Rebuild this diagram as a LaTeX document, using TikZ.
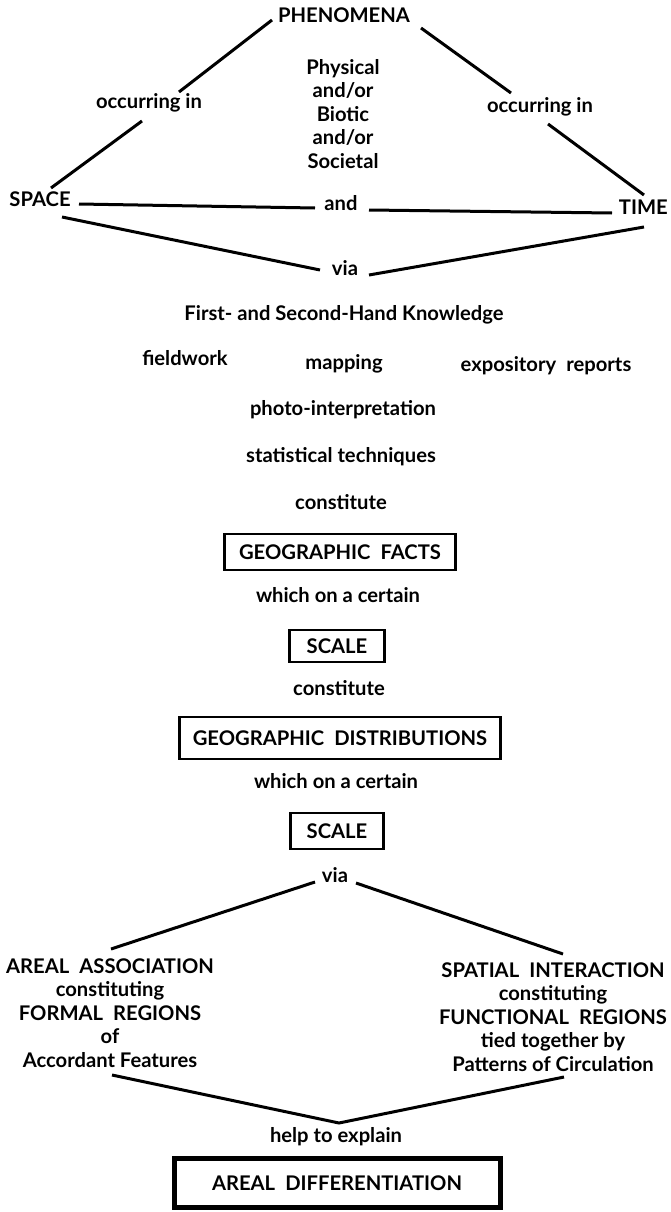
\documentclass[tikz,border=0pt]{standalone}
\usepackage{fontspec}
\setmainfont{Lato}
\newcommand{\wsp}{\hspace{0.5em}}
\begin{document}
\begin{tikzpicture}[x=1pt,y=-1pt,
  txtfont/.style={font=\fontsize{20.2}{23.5}\selectfont\bfseries},
  lbl/.style={inner sep=0pt, anchor=mid, txtfont},
  stack/.style={inner sep=0pt, align=center, txtfont},
  framed/.style={draw, line width=2.8pt, inner sep=0pt, align=center, txtfont},
  heavyframed/.style={framed, line width=5pt},
  link/.style={line width=3pt}
]
\fill[white] (0,0) rectangle (670,1212);
\useasboundingbox (0,0) rectangle (670,1212);

% --- phenomena in space and time ---
\node[lbl] (phen) at (344,20) {PHENOMENA};
\node[stack] (kinds) at (343,114) {Physical\\and/or\\Biotic\\and/or\\Societal};
\node[lbl] (occL) at (149,106) {occurring in};
\node[lbl] (occR) at (540,110) {occurring in};
\node[lbl] (space) at (40,204) {SPACE};
\node[lbl] (and) at (341,208) {and};
\node[lbl, anchor=mid east] (time) at (668,212) {TIME};
\node[lbl] (via1) at (345,273) {via};

\draw[link] ([shift={(-72,0)}]phen.mid) -- ([shift={(30,-14)}]occL.mid);
\draw[link] ([shift={(77,8)}]phen.mid) -- ([shift={(-29,-17)}]occR.mid);
\draw[link] ([shift={(-7,15)}]occL.mid) -- ([shift={(11,-16)}]space.mid);
\draw[link] ([shift={(8,14)}]occR.mid) -- ([shift={(-24,-17)}]time.mid east);
\draw[link] ([shift={(39,0)}]space.mid) -- ([shift={(-26,0)}]and.mid);
\draw[link] ([shift={(28,2)}]and.mid) -- ([shift={(-56,1)}]time.mid east);
\draw[link] ([shift={(22,13)}]space.mid) -- ([shift={(-25,-3)}]via1.mid);
\draw[link] ([shift={(24,2)}]via1.mid) -- ([shift={(-24,15)}]time.mid east);

% --- knowledge and techniques ---
\node[lbl] (know) at (344,318) {First- and Second-Hand Knowledge};
\node[lbl] (field) at (185,363) {fieldwork};
\node[lbl] (mapping) at (344,367) {mapping};
\node[lbl] (expos) at (546,369) {expository\wsp reports};
\node[lbl] (photo) at (343,413) {photo-interpretation};
\node[lbl] (stat) at (341,460) {statistical techniques};
\node[lbl] (const1) at (341,507) {constitute};

% --- facts, scale, distributions ---
\node[framed, minimum width=231, minimum height=36] (facts) at (340,552) {GEOGRAPHIC\wsp FACTS};
\node[lbl] (which1) at (338,600) {which on a certain};
\node[framed, minimum width=95, minimum height=32] (scale1) at (337,646) {SCALE};
\node[lbl] (const2) at (339,693) {constitute};
\node[framed, minimum width=321, minimum height=42] (distr) at (340,738) {GEOGRAPHIC\wsp DISTRIBUTIONS};
\node[lbl] (which2) at (336,786) {which on a certain};
\node[framed, minimum width=93, minimum height=36] (scale2) at (337,831) {SCALE};
\node[lbl] (via2) at (335,880) {via};

% --- two kinds of regions ---
\node[stack] (assoc) at (110,1013) {AREAL\wsp ASSOCIATION\\constituting\\FORMAL\wsp REGIONS\\of\\Accordant Features};
\node[stack] (inter) at (553,1017) {SPATIAL\wsp INTERACTION\\constituting\\FUNCTIONAL\wsp REGIONS\\tied together by\\Patterns of Circulation};

\draw[link] ([shift={(-20,2)}]via2.mid) -- ([shift={(1,-64)}]assoc.center);
\draw[link] ([shift={(21,3)}]via2.mid) -- ([shift={(10,-63)}]inter.center);

\node[lbl] (help) at (336,1140) {help to explain};
\draw[link] ([shift={(2,62)}]assoc.center) -- ([shift={(3,-17)}]help.mid) -- ([shift={(11,60)}]inter.center);

\node[heavyframed, minimum width=326, minimum height=49] (areal) at (337,1183) {AREAL\wsp DIFFERENTIATION};
\end{tikzpicture}
\end{document}
